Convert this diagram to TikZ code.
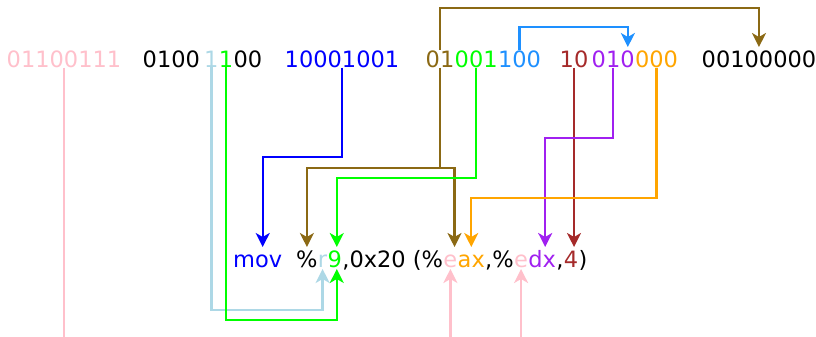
\documentclass[tikz,border=0pt]{standalone}
\usepackage{fontspec}
\setmainfont{DejaVu Sans}
\usetikzlibrary{arrows.meta}

\definecolor{bpink}{HTML}{FFC0CB}
\definecolor{blight}{HTML}{ADD8E6}
\definecolor{bgreen}{HTML}{00FF00}
\definecolor{bblue}{HTML}{0000FF}
\definecolor{bbrown}{HTML}{8B6914}
\definecolor{bdodger}{HTML}{1E90FF}
\definecolor{bred}{HTML}{A52A2A}
\definecolor{bpurple}{HTML}{A020F0}
\definecolor{borange}{HTML}{FFA500}

\begin{document}
\begin{tikzpicture}[x=1pt, y=-1pt,
    bits/.style={inner sep=0pt, anchor=base west, font=\fontsize{22.5}{27}\selectfont},
    wire/.style={line width=2.4pt},
    arr/.style={wire, -{Stealth[length=14pt, width=14pt, inset=4pt]}}]
  \useasboundingbox (0,0) rectangle (816,337);

  % levels of the horizontal runs
  \coordinate (top1) at (0,8);
  \coordinate (top2) at (0,27);
  \coordinate (tipA) at (0,47);
  \coordinate (l1) at (0,138);
  \coordinate (l2) at (0,157);
  \coordinate (l3) at (0,168);
  \coordinate (l4) at (0,178);
  \coordinate (l5) at (0,198);
  \coordinate (tipB) at (0,247);
  \coordinate (below) at (0,269);
  \coordinate (l6) at (0,310);
  \coordinate (l7) at (0,320);
  \coordinate (edge) at (0,337);

  % instruction bytes
  \node[bits, text=bpink] (pfx) at (6.5,67) {01100111};
  \node[bits] (rexhi) at (142.5,67) {0100};
  \node[bits, text=blight] (rexw) at (204,67) {1};
  \node[bits, text=bgreen] (rexr) at (rexw.base east) {1};
  \node[bits] (rexlo) at (rexr.base east) {00};
  \node[bits, text=bblue] (opc) at (284.5,67) {10001001};
  \node[bits, text=bbrown] (mod) at (425.5,67) {01};
  \node[bits, text=bgreen] (regf) at (mod.base east) {001};
  \node[bits, text=bdodger] (rmf) at (regf.base east) {100};
  \node[bits, text=bred] (scl) at (559.5,67) {10};
  \node[bits, text=bpurple] (sidx) at (591.5,67) {010};
  \node[bits, text=borange] (sbase) at (sidx.base east) {000};
  \node[bits] (dsp) at (701.5,67) {00100000};

  % decoded instruction
  \node[bits, text=bblue] (mov) at (233,267) {mov};
  \node[bits] (pct) at (296,267) {\%};
  \node[bits, text=blight] (rr) at (pct.base east) {r};
  \node[bits, text=bgreen] (nine) at (rr.base east) {9};
  \node[bits] (disp) at (nine.base east) {,0x20 (\%};
  \node[bits, text=bpink] (eaxe) at (disp.base east) {e};
  \node[bits, text=borange] (eax) at (eaxe.base east) {ax};
  \node[bits] (sep) at (eax.base east) {,\%};
  \node[bits, text=bpink] (edxe) at (sep.base east) {e};
  \node[bits, text=bpurple] (edx) at (edxe.base east) {dx};
  \node[bits] (comma) at (edx.base east) {,};
  \node[bits, text=bred] (scale) at (comma.base east) {4};
  \node[bits] (close) at (scale.base east) {)};

  % connectors
  \draw[wire, bpink] (pfx.south) -- (pfx.south |- edge);
  \draw[arr, bpink] (eaxe.south |- edge) -- (eaxe.south |- below);
  \draw[arr, bpink] (edxe.south |- edge) -- (edxe.south |- below);
  \draw[arr, blight] (rexw.south) |- (rr.south |- l6) -- (rr.south |- below);
  \draw[arr, bgreen] (rexr.south) |- ([xshift=2pt]nine.south |- l7) -- ([xshift=2pt]nine.south |- below);
  \draw[arr, bblue] (opc.south) |- ([xshift=5pt]mov.north |- l2) -- ([xshift=5pt]mov.north |- tipB);
  \draw[arr, bbrown] (mod.north) |- (dsp.north |- top1) -- (dsp.north |- tipA);
  \draw[arr, bbrown] (mod.south) |- ([xshift=-3pt]eax.north west |- l3) -- ([xshift=-3pt]eax.north west |- tipB);
  \draw[arr, bbrown] (mod.south |- l3) -| (pct.north |- tipB);
  \draw[arr, bgreen] (regf.south) |- ([xshift=2pt]nine.north |- l4) -- ([xshift=2pt]nine.north |- tipB);
  \draw[arr, bdodger] (rmf.north) |- ([xshift=-7pt]sidx.north east |- top2) -- ([xshift=-7pt]sidx.north east |- tipA);
  \draw[arr, bred] (scl.south) -- (scl.south |- tipB);
  \draw[arr, bpurple] (sidx.south) |- ([xshift=3pt]edx.north |- l1) -- ([xshift=3pt]edx.north |- tipB);
  \draw[arr, borange] (sbase.south) |- (eax.north |- l5) -- (eax.north |- tipB);
\end{tikzpicture}
\end{document}
